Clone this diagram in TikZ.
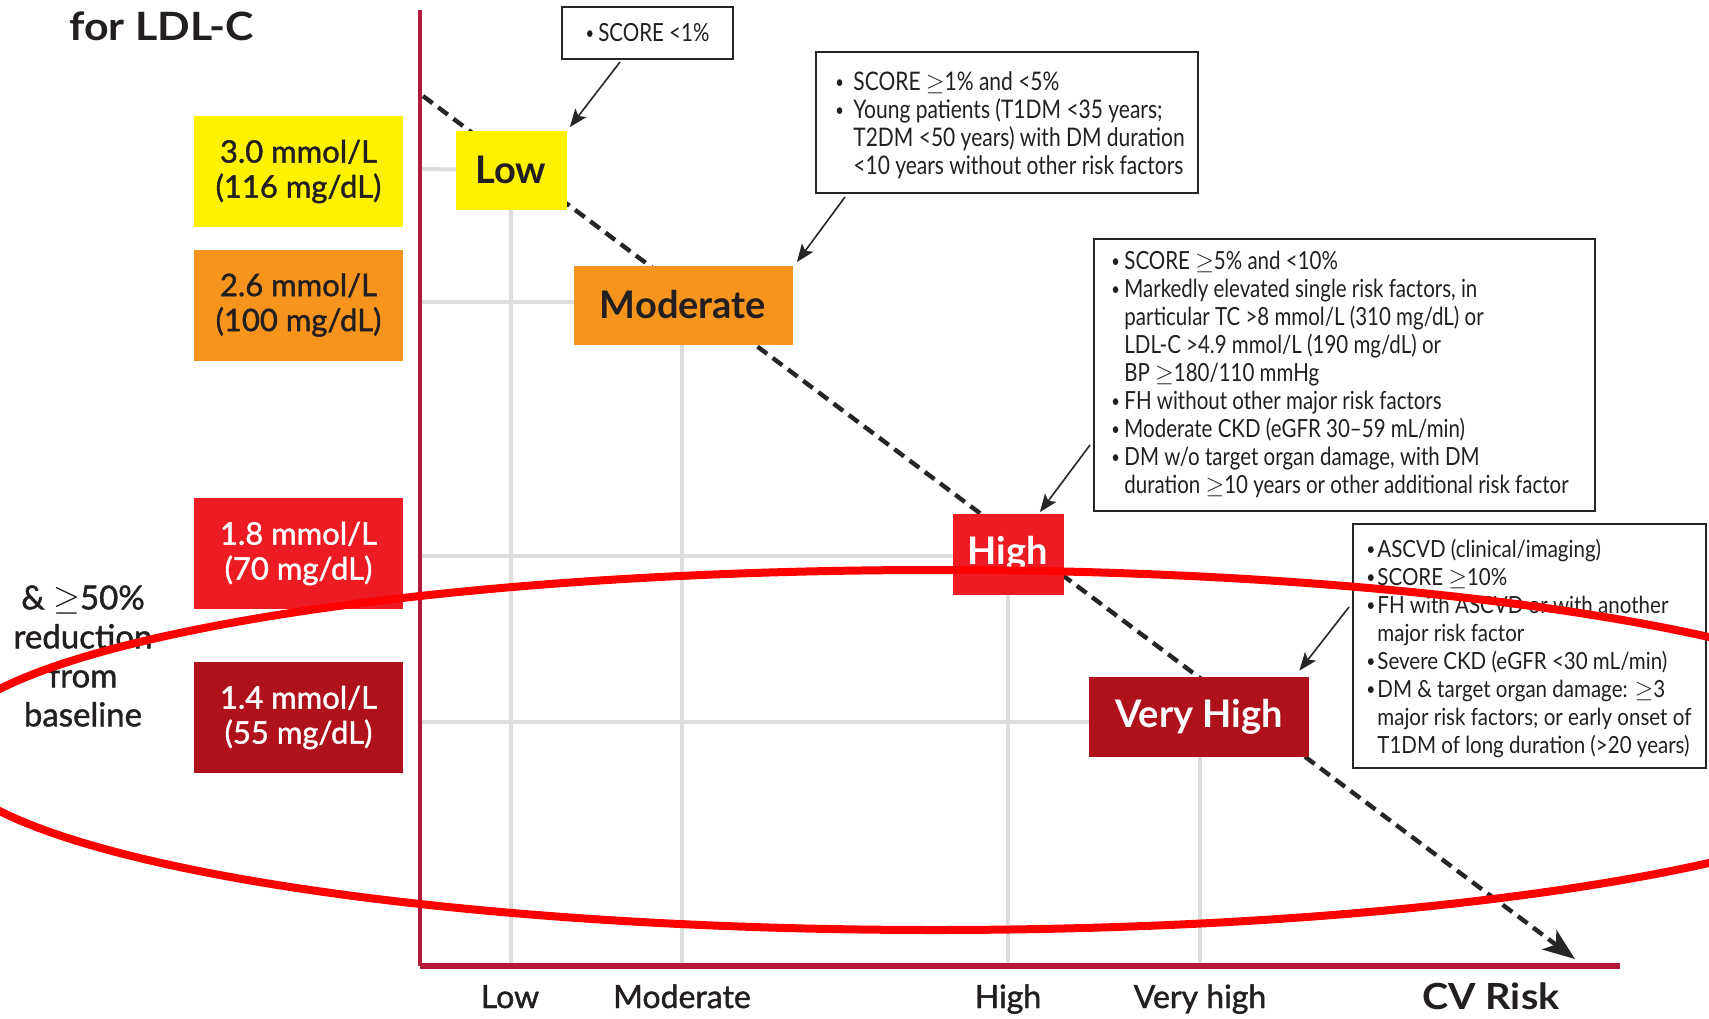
\documentclass[tikz,border=0pt]{standalone}
\usepackage{fontspec}
\setmainfont{Lato}
\newfontfamily\condfont[FakeStretch=0.82]{Lato}
\newfontfamily\condfontb[FakeStretch=0.87]{Lato}
\newfontfamily\medfont[FakeBold=1.3]{Lato}
\newfontfamily\widebold[FakeStretch=1.1]{Lato Bold}
\newcommand{\bul}{\raisebox{0.08em}{\fontsize{9}{9}\selectfont •}}
\usetikzlibrary{arrows.meta,calc}
\definecolor{cyel}{HTML}{FFF200}
\definecolor{cora}{HTML}{F7941D}
\definecolor{cred}{HTML}{ED1C24}
\definecolor{cdred}{HTML}{B0121B}
\definecolor{caxis}{HTML}{B3193A}
\definecolor{cgrid}{HTML}{DDDDDD}
\definecolor{ctext}{HTML}{231F20}
\tikzset{
 mmolbox/.style={minimum width=104.5pt, minimum height=55.5pt, inner sep=0pt, align=center, font=\medfont\fontsize{15.5}{17.5}\selectfont},
 riskbox/.style={inner sep=0pt, minimum height=39.5pt, font=\bfseries\fontsize{19}{22}\selectfont},
 annotbox/.style={draw=black!85, line width=0.75pt, inner sep=0pt, fill=white},
 annottext/.style={anchor=north west, inner sep=0pt, font=\condfont\fontsize{12.5}{14}\selectfont},
 pointer/.style={draw=black!85, line width=0.8pt, -{Stealth[length=9pt,width=7pt,inset=2pt]}},
 gridline/.style={draw=cgrid, line width=2pt},
 riskline/.style={draw=black!85, line width=2.2pt, dash pattern=on 6pt off 3.5pt, -{Stealth[length=16pt,width=12pt,inset=4pt]}},
 halo/.style={draw=red, line width=4pt},
 axislabel/.style={anchor=base, inner sep=0pt, font=\medfont\fontsize{16}{19}\selectfont},
}
\begin{document}
\begin{tikzpicture}[x=0.5pt,y=-0.5pt, every node/.style={text=ctext}]
\useasboundingbox (0,0) rectangle (1709,1018);
\fill[white] (0,0) rectangle (1709,1018);
\clip (0,0) rectangle (1709,1018);

% axes reference coordinates
\coordinate (ytop) at (420,10);
\coordinate (origin) at (420,966);
\coordinate (xend) at (1620,966);

% risk boxes (nodes placed first for names, drawn later on top)
\path
 node[riskbox, minimum width=55.5pt, fill=cyel] (low) at (511,170) {}
 node[riskbox, minimum width=109.5pt, fill=cora] (mod) at (683,305) {}
 node[riskbox, minimum width=55.5pt, minimum height=40.5pt, fill=cred] (high) at (1008,554) {}
 node[riskbox, minimum width=110pt, minimum height=40pt, fill=cdred] (vhigh) at (1199,717) {};

% grid lines
\draw[gridline] (420,169) -- (low.center) -- (low.center |- origin);
\draw[gridline] (420,302) -| (682,966);
\draw[gridline] (420,556) -| (1008,966);
\draw[gridline] (420,722) -| (1200,966);

% dashed risk line
\coordinate (rs) at (423,96);
\coordinate (re) at (1575,959);
\draw[riskline] (rs) -- (re);

% risk boxes with labels
\node[riskbox, minimum width=55.5pt, fill=cyel] at (low) {Low};
\node[riskbox, minimum width=109.5pt, fill=cora] at (mod) {Moderate};
\node[riskbox, minimum width=55.5pt, minimum height=40.5pt, fill=cred, text=white] at (high) {High};
\node[riskbox, minimum width=110pt, minimum height=40pt, fill=cdred, text=white] at (vhigh) {Very High};

% mmol boxes
\node[mmolbox, fill=cyel] (m30) at (298.5,171.5) {3.0 mmol/L\\(116 mg/dL)};
\node[mmolbox, fill=cora] (m26) at (298.5,305) {2.6 mmol/L\\(100 mg/dL)};
\node[mmolbox, fill=cred, text=white] (m18) at (298.5,553.5) {1.8 mmol/L\\(70 mg/dL)};
\node[mmolbox, fill=cdred, text=white] (m14) at (298.5,717.5) {1.4 mmol/L\\(55 mg/dL)};

% title and side text
\node[anchor=base west, inner sep=0pt, font=\widebold\fontsize{19.5}{22}\selectfont] (title) at (69,40) {for LDL-C};
\node[align=center, inner sep=0pt, font=\medfont\fontsize{16.5}{19.5}\selectfont] (red50) at (83,656) {\& $\geq$50\%\\reduction\\from\\baseline};

% annotation boxes
\node[annotbox, minimum width=85.5pt, minimum height=26pt, font=\condfont\fontsize{12.5}{14}\selectfont] (b1) at (647.5,33) {\bul\,SCORE <1\%};
\node[annotbox, minimum width=191pt, minimum height=70.5pt] (b2) at (1007,122.5) {};
\node[annotbox, minimum width=250.5pt, minimum height=136pt] (b3) at (1344.5,375) {};
\node[annotbox, minimum width=176.5pt, minimum height=122pt] (b4) at (1529.5,646) {};

\node[annottext, font=\condfont\fontsize{12.8}{14}\selectfont] (t2) at (835,70.4) {\begin{tabular}{@{}p{9pt}@{}l@{}}
\bul& SCORE $\geq$1\% and <5\%\\
\bul& Young patients (T1DM <35 years;\\
 & T2DM <50 years) with DM duration\\
 & <10 years without other risk factors
\end{tabular}};

\node[annottext] (t3) at (1111,249.4) {\begin{tabular}{@{}p{6.5pt}@{}l@{}}
\bul& SCORE $\geq$5\% and <10\%\\
\bul& Markedly elevated single risk factors, in\\
 & particular TC >8 mmol/L (310 mg/dL) or\\
 & LDL-C >4.9 mmol/L (190 mg/dL) or\\
 & BP $\geq$180/110 mmHg\\
\bul& FH without other major risk factors\\
\bul& Moderate CKD (eGFR 30–59 mL/min)\\
\bul& DM w/o target organ damage, with DM\\
 & duration $\geq$10 years or other additional risk factor
\end{tabular}};

\node[annottext, font=\condfontb\fontsize{11.8}{14}\selectfont] (t4) at (1366,537.4) {\begin{tabular}{@{}p{5.5pt}@{}l@{}}
\bul& ASCVD (clinical/imaging)\\
\bul& SCORE $\geq$10\%\\
\bul& FH with ASCVD or with another\\
 & major risk factor\\
\bul& Severe CKD (eGFR <30 mL/min)\\
\bul& DM \& target organ damage: $\geq$3\\
 & major risk factors; or early onset of\\
 & T1DM of long duration (>20 years)
\end{tabular}};

% pointers
\coordinate (p1) at (620,62);
\coordinate (p2) at (845,197);
\coordinate (p3) at (1090,445);
\coordinate (p4) at (1349,607);
\draw[pointer] (p1) -- ($(low.north east)+(3,-3)$);
\draw[pointer] (p2) -- ($(mod.north east)+(4,-3)$);
\draw[pointer] (p3) -- ($(high.north east)+(-24,-1)$);
\draw[pointer] (p4) -- ($(vhigh.north east)+(-10,-6)$);

% axes
\draw[caxis, line width=2.3pt] (ytop) -- (origin);
\draw[caxis, line width=3pt] (origin) -- (xend);

% axis labels
\node[axislabel] (lx1) at (510,1008) {Low};
\node[axislabel] (lx2) at (682,1008) {Moderate};
\node[axislabel] (lx3) at (1008,1008) {High};
\node[axislabel] (lx4) at (1200,1008) {Very high};
\node[axislabel, font=\widebold\fontsize{18}{21}\selectfont] (cv) at (1491,1009) {CV Risk};

% red ellipse overlay
\draw[halo] (935,750) ellipse [x radius=994, y radius=180];
\end{tikzpicture}
\end{document}
